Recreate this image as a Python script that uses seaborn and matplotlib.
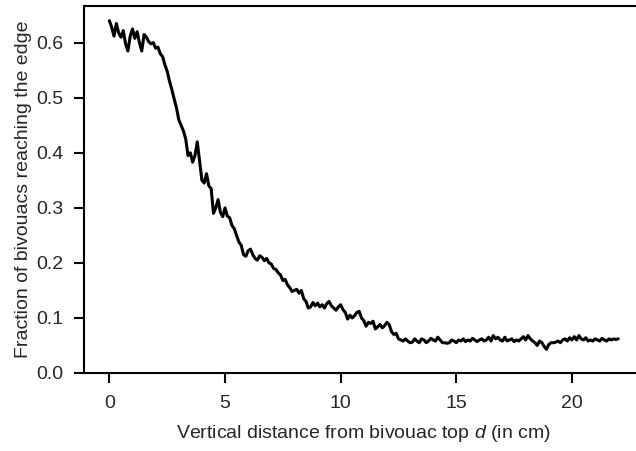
import numpy as np
import pandas as pd
import matplotlib
matplotlib.use("Agg")
import matplotlib.pyplot as plt
import seaborn as sns

# fraction of bivouacs reaching the edge, sampled every 0.1 cm from 0 to 22 cm
frac_0_2 = [0.640, 0.628, 0.612, 0.635, 0.618, 0.610, 0.622, 0.598, 0.585, 0.612,
            0.625, 0.608, 0.620, 0.600, 0.585, 0.615, 0.610, 0.602, 0.598, 0.600, 0.590]
frac_2_5 = [0.592, 0.580, 0.575, 0.560, 0.548, 0.530, 0.515, 0.498, 0.482, 0.460,
            0.450, 0.440, 0.425, 0.395, 0.400, 0.383, 0.395, 0.420, 0.385, 0.350,
            0.345, 0.362, 0.340, 0.335, 0.290, 0.300, 0.315, 0.292, 0.284, 0.300]
frac_5_8 = [0.285, 0.282, 0.268, 0.262, 0.250, 0.238, 0.232, 0.215, 0.212, 0.222,
            0.225, 0.215, 0.208, 0.205, 0.213, 0.210, 0.204, 0.208, 0.200, 0.198,
            0.190, 0.188, 0.182, 0.178, 0.168, 0.170, 0.160, 0.155, 0.148, 0.150]
frac_8_13 = [0.152, 0.145, 0.150, 0.135, 0.130, 0.118, 0.120, 0.128, 0.122, 0.127,
             0.120, 0.124, 0.118, 0.126, 0.130, 0.122, 0.118, 0.114, 0.120, 0.124,
             0.115, 0.110, 0.098, 0.105, 0.100, 0.104, 0.110, 0.112, 0.100, 0.095,
             0.085, 0.092, 0.090, 0.094, 0.080, 0.084, 0.088, 0.082, 0.086, 0.092,
             0.088, 0.075, 0.070, 0.072, 0.062, 0.060, 0.058, 0.062, 0.058, 0.055]
frac_13_22 = [0.056, 0.062, 0.058, 0.055, 0.062, 0.060, 0.055, 0.058, 0.063, 0.060,
              0.058, 0.065, 0.060, 0.055, 0.055, 0.054, 0.055, 0.060, 0.058, 0.055,
              0.060, 0.058, 0.062, 0.057, 0.060, 0.058, 0.063, 0.060, 0.057, 0.060,
              0.062, 0.058, 0.060, 0.065, 0.058, 0.068, 0.062, 0.065, 0.060, 0.058,
              0.065, 0.058, 0.060, 0.062, 0.057, 0.060, 0.058, 0.062, 0.066, 0.060,
              0.068, 0.062, 0.058, 0.055, 0.050, 0.058, 0.055, 0.048, 0.043, 0.052,
              0.055, 0.055, 0.056, 0.058, 0.055, 0.060, 0.062, 0.058, 0.064, 0.060,
              0.066, 0.060, 0.068, 0.062, 0.060, 0.064, 0.058, 0.060, 0.058, 0.062,
              0.060, 0.058, 0.063, 0.060, 0.058, 0.062, 0.060, 0.062, 0.061, 0.062]

frac = frac_0_2 + frac_2_5 + frac_5_8 + frac_8_13 + frac_13_22
d = np.linspace(0, 22, len(frac))

df = pd.DataFrame({"d": d, "frac": frac})

sns.set_style("ticks")
plt.rcParams["font.family"] = ["Liberation Sans", "DejaVu Sans"]
plt.rcParams["mathtext.fontset"] = "custom"
plt.rcParams["mathtext.it"] = "Liberation Sans:italic"
plt.rcParams["mathtext.rm"] = "Liberation Sans"

fig = plt.figure(figsize=(6.36, 4.51), dpi=100)
ax = fig.add_axes([0.132, 0.173, 0.88, 0.814])

sns.lineplot(data=df, x="d", y="frac", color="black", linewidth=2.2, ax=ax)

ax.set_ylim(0, 0.667)
ax.set_xticks([0, 5, 10, 15, 20])
ax.set_yticks([0.0, 0.1, 0.2, 0.3, 0.4, 0.5, 0.6])
ax.set_xlabel("Vertical distance from bivouac top $d$ (in cm)", fontsize=14, labelpad=7.5)
ax.set_ylabel("Fraction of bivouacs reaching the edge", fontsize=14, labelpad=3)
ax.tick_params(labelsize=14, width=1.5, length=7, color="black")
ax.tick_params(axis="x", pad=9)
ax.tick_params(axis="y", pad=8)
for s in ax.spines.values():
    s.set_linewidth(1.5)
    s.set_color("black")

fig.savefig("out.png", dpi=100)
